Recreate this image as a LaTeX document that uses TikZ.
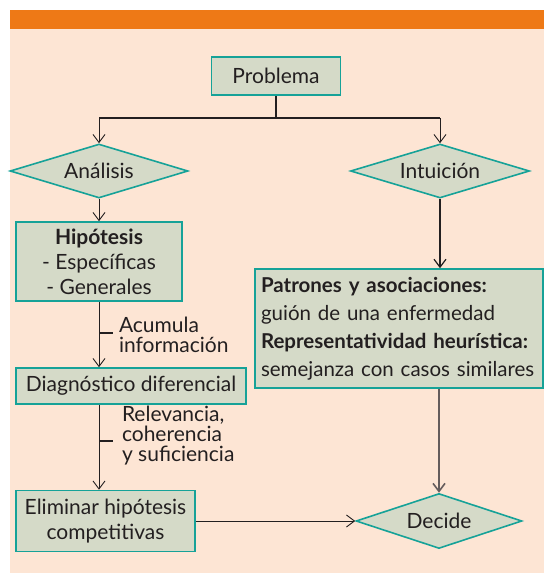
\documentclass[tikz,border=0pt]{standalone}
\usepackage{fontspec}
\setmainfont{Lato}
\usepackage{tikz}
\usetikzlibrary{arrows.meta, positioning, calc, shapes.geometric}
\definecolor{barOrange}{RGB}{238,121,22}
\definecolor{bgPeach}{RGB}{253,229,212}
\definecolor{boxFill}{RGB}{213,218,200}
\definecolor{boxLine}{RGB}{22,162,152}
\definecolor{inkDark}{RGB}{35,31,32}
\definecolor{lineGrey}{RGB}{100,92,92}

\begin{document}
\begin{tikzpicture}[x=1pt, y=-1pt,
	every node/.style={text=inkDark, font=\fontsize{21}{25}\selectfont},
	box/.style={rectangle, draw=boxLine, line width=1.6pt, fill=boxFill, inner sep=0pt, align=center},
	choice/.style={diamond, aspect=3.3, draw=boxLine, line width=1.6pt, fill=boxFill, inner sep=0pt},
	arr/.style={-{Straight Barb[length=8pt, width=12pt]}, line width=0.9pt, draw=inkDark},
	stem/.style={line width=1.8pt, draw=inkDark},
	tick/.style={line width=2pt, draw=inkDark},
	note/.style={anchor=west, align=left, inner sep=0pt, font=\fontsize{21}{20}\selectfont}]
	\newcommand\tickLen{14}
	% page and top bar
	\useasboundingbox (0,0) rectangle (544,573);
	\fill[bgPeach] (10,29) rectangle (544,573);
	\fill[barOrange] (10,10) rectangle (544,29);

	% nodes
	\node[box, minimum width=129pt, minimum height=38pt] (prob) at (276,76) {Problema};
	\node[choice, minimum width=178pt, minimum height=54pt] (ana) at (99,171) {Análisis};
	\node[choice, minimum width=179pt, minimum height=54pt] (int) at (440,171) {Intuición};
	\node[box, minimum width=166pt, minimum height=79pt] (hip) at (99,261.5) {\textbf{Hipótesis}\\- Específicas\\- Generales};
	\node[box, minimum width=230pt, minimum height=36pt] (diag) at (131,386) {Diagnóstico diferencial};
	\node[box, minimum width=179pt, minimum height=61pt] (elim) at (105.5,521) {Eliminar hipótesis\\competitivas};
	\node[box, align=left, text width=276pt, minimum width=288pt, minimum height=119pt,
		font=\fontsize{20.5}{28}\selectfont] (pat) at (399,328.5)
		{\textbf{Patrones y asociaciones:}\\guión de una enfermedad\\\textbf{Representatividad heurística:}\\semejanza con casos similares};
	\node[choice, minimum width=166pt, minimum height=55pt] (dec) at (439,521) {Decide};

	% split under Problema
	\draw[stem] (prob.south) -- ++(0,22) coordinate (split);
	\draw[stem] (split -| ana.north) -- (split -| int.north);
	\draw[arr] (split -| ana.north) -- (ana.north);
	\draw[arr] (split -| int.north) -- (int.north);

	% left column
	\draw[arr] (ana.south) -- (hip.north);
	\draw[arr] (hip.south) -- coordinate[pos=0.47] (tickA) (hip.south |- diag.north);
	\draw[arr] (hip.south |- diag.south) -- coordinate[pos=0.43] (tickB) (hip.south |- elim.north);
	\draw[tick] (tickA) -- ++(\tickLen,0) node[note, xshift=5pt, yshift=-2pt] (acum) {Acumula\\información};
	\draw[tick] (tickB) -- ++(\tickLen,0) node[note, xshift=8pt, yshift=6pt] (relev) {Relevancia,\\coherencia\\y suficiencia};

	% right column
	\draw[arr, line width=1.2pt] (int.south) -- (int.south |- pat.north);
	\draw[arr, draw=lineGrey, line width=1.6pt] (dec.north |- pat.south) -- (dec.north);
	\draw[arr] (elim.east) -- (dec.west);
\end{tikzpicture}
\end{document}
